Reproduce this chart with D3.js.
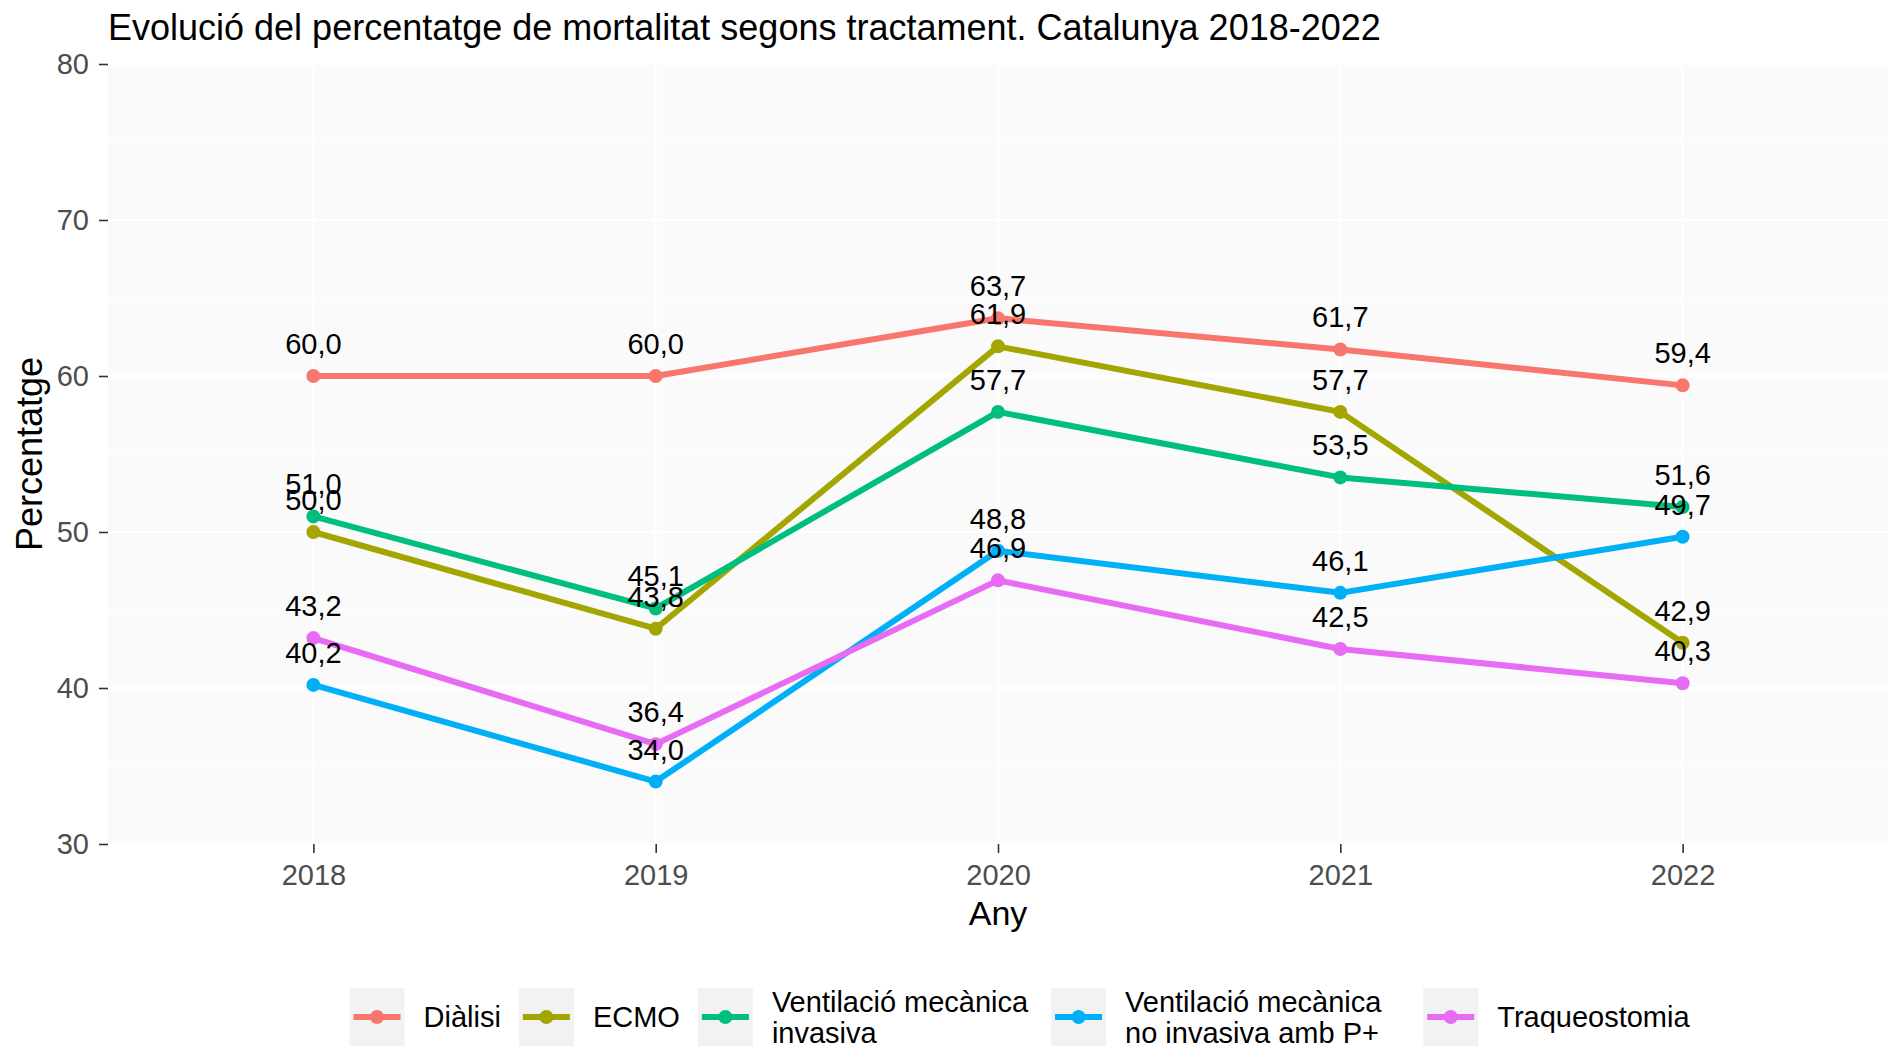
<!DOCTYPE html>
<html><head><meta charset="utf-8">
<script src="https://cdn.jsdelivr.net/npm/d3@7"></script>
<style>body{margin:0;background:#fff}svg{display:block}text{font-family:"Liberation Sans",Arial,sans-serif}</style>
</head><body><svg id="c" width="1888" height="1048"></svg>
<script>
const years = ["2018","2019","2020","2021","2022"];
const seriesNames = ["Diàlisi","ECMO","Ventilació mecànica\ninvasiva","Ventilació mecànica\nno invasiva amb P+","Traqueostomia"];
const dialisi = [60.0, 60.0, 63.7, 61.7, 59.4];
const ecmo = [50.0, 43.8, 61.9, 57.7, 42.9];
const vmi = [51.0, 45.1, 57.7, 53.5, 51.6];
const vmni = [40.2, 34.0, 48.8, 46.1, 49.7];
const traqueostomia = [43.2, 36.4, 46.9, 42.5, 40.3];
const yTicks = [30, 40, 50, 60, 70, 80];
const yMinor = [35, 45, 55, 65, 75];
const colors = ["#F8766D","#A3A500","#00BF7D","#00B0F6","#E76BF3"];
const title = "Evolució del percentatge de mortalitat segons tractament. Catalunya 2018-2022";

const allSeries = [dialisi, ecmo, vmi, vmni, traqueostomia];
const svg = d3.select("#c");
const P = {l:108, r:1888, t:64, b:844};
const x = d3.scalePoint().domain(years).range([P.l, P.r]).padding(0.6);
const y = d3.scaleLinear().domain([30, 80]).range([P.b, P.t]);

svg.append("rect").attr("x",P.l).attr("y",P.t).attr("width",P.r-P.l).attr("height",P.b-P.t).attr("fill","#FAFAFA");
const g = svg.append("g");
g.selectAll(".ymin").data(yMinor).join("line").attr("x1",P.l).attr("x2",P.r).attr("y1",d=>y(d)).attr("y2",d=>y(d)).attr("stroke","#fff").attr("stroke-width",1);
g.selectAll(".ymaj").data(yTicks).join("line").attr("x1",P.l).attr("x2",P.r).attr("y1",d=>y(d)).attr("y2",d=>y(d)).attr("stroke","#fff").attr("stroke-width",2);
g.selectAll(".xmaj").data(years).join("line").attr("x1",d=>x(d)).attr("x2",d=>x(d)).attr("y1",P.t).attr("y2",P.b).attr("stroke","#fff").attr("stroke-width",2);

// axes
const yAxis = svg.append("g").attr("transform",`translate(${P.l},0)`).call(d3.axisLeft(y).tickValues(yTicks).tickSize(9).tickPadding(10));
const xAxis = svg.append("g").attr("transform",`translate(0,${P.b})`).call(d3.axisBottom(x).tickSize(9).tickPadding(6));
[yAxis,xAxis].forEach(a=>{a.select(".domain").remove();a.selectAll(".tick line").attr("stroke","#333").attr("stroke-width",1.6);
  a.selectAll(".tick text").attr("fill","#4D4D4D").style("font-size","29px").attr("font-family",null);});
xAxis.selectAll(".tick text").attr("dy","0.9em");

const line = d3.line().x((d,i)=>x(years[i])).y(d=>y(d));
allSeries.forEach((s,k)=>{
  svg.append("path").attr("d",line(s)).attr("fill","none").attr("stroke",colors[k]).attr("stroke-width",6).attr("stroke-linejoin","round");
});
allSeries.forEach((s,k)=>{
  svg.append("g").selectAll("circle").data(s).join("circle").attr("cx",(d,i)=>x(years[i])).attr("cy",d=>y(d)).attr("r",7).attr("fill",colors[k]);
});
const fmt = v => v.toFixed(1).replace(".",",");
allSeries.forEach((s,k)=>{
  svg.append("g").selectAll("text").data(s).join("text").attr("x",(d,i)=>x(years[i])).attr("y",d=>y(d)-22)
    .attr("text-anchor","middle").style("font-size","29px").attr("fill","#000").text(d=>fmt(d));
});

// titles
svg.append("text").attr("x",108).attr("y",40).style("font-size","36px").attr("fill","#000").text(title);
svg.append("text").attr("x",(P.l+P.r)/2).attr("y",925).attr("text-anchor","middle").style("font-size","34px").text("Any");
svg.append("text").attr("transform",`translate(42,${(P.t+P.b)/2}) rotate(-90)`).attr("text-anchor","middle").style("font-size","36px").text("Percentatge");

// legend
const lg = svg.append("g");
const keyW = 55, keyH = 58, keyTop = 988, gapText = 19, fs = 29;
const gaps = [18, 18, 22, 41];
let cx = 0;
seriesNames.forEach((n,k)=>{
  const it = lg.append("g");
  it.append("rect").attr("x",0).attr("y",keyTop).attr("width",keyW).attr("height",keyH).attr("fill","#F2F2F2");
  it.append("line").attr("x1",4).attr("x2",keyW-4).attr("y1",keyTop+keyH/2).attr("y2",keyTop+keyH/2).attr("stroke",colors[k]).attr("stroke-width",6);
  it.append("circle").attr("cx",keyW/2).attr("cy",keyTop+keyH/2).attr("r",7).attr("fill",colors[k]);
  const lines = n.split("\n");
  const t = it.append("text").attr("x",keyW+gapText).style("font-size",fs+"px");
  const y0 = lines.length===1 ? keyTop+keyH/2+fs*0.36 : keyTop+keyH/2-15+fs*0.36;
  lines.forEach((l,j)=>t.append("tspan").attr("x",keyW+gapText).attr("y",y0+j*31).text(l));
  const w = t.node().getBBox().width;
  it.attr("transform",`translate(${cx},0)`);
  cx += keyW+gapText+w+(gaps[k]||0);
});
const total = cx;
lg.attr("transform",`translate(${1020 - total/2},0)`);
</script></body></html>
